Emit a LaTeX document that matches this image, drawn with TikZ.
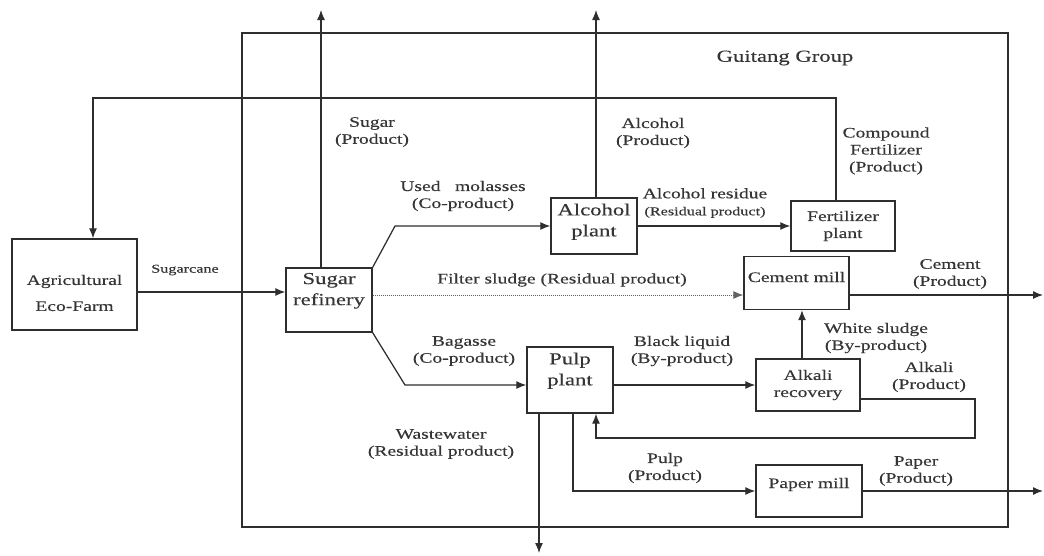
\documentclass[tikz,border=0pt]{standalone}
\usepackage{fontspec}
\setmainfont{Liberation Serif}[FakeStretch=1.35, FakeBold=0.35]
\usetikzlibrary{arrows.meta}

\definecolor{ink}{HTML}{2E2E2E}
\definecolor{inktext}{HTML}{353535}
\newcommand{\tagsize}{\fontsize{14.5}{17}\selectfont}
\newcommand{\smallsize}{\fontsize{12}{15}\selectfont}
\newcommand{\bigsize}{\fontsize{16.8}{21}\selectfont}

\begin{document}
\begin{tikzpicture}[x=1pt, y=-1pt, >={Latex[length=10pt,width=8pt]}]
        % --- Styles ---
        \tikzset{
            unit_box/.style={draw=ink, line width=1.4pt, inner sep=0pt, align=center, text=inktext, font=\tagsize},
            unit_big/.style={unit_box, font=\bigsize},
            flow_arrow/.style={->, draw=ink, line width=1.25pt},
            sludge_line/.style={->, draw=ink!75, line width=0.9pt, dash pattern=on 1pt off 1pt},
            flow_tag/.style={align=center, text=inktext, font=\tagsize},
            group_frame/.style={draw=ink, line width=1.25pt}
        }
        \useasboundingbox (0,0) rectangle (1044,555);

        % =====================================================================
        % CADRE DU GROUPE
        % =====================================================================
        \draw[group_frame] (242,33) rectangle (1008,527);
        \node[flow_tag, font=\bigsize] (groupname) at (785,58) {Guitang Group};

        % =====================================================================
        % UNITES
        % =====================================================================
        \node[unit_box, minimum width=125, minimum height=91] (farm) at (74.5,284.5)
            {\rule{0pt}{27pt}Agricultural\\[9pt]Eco-Farm};
        \node[unit_big, minimum width=86, minimum height=64] (refinery) at (329,300)
            {Sugar\\refinery\rule[-22pt]{0pt}{22pt}};
        \node[unit_big, minimum width=86, minimum height=56] (alcohol) at (594,226)
            {Alcohol\\plant\rule[-12pt]{0pt}{12pt}};
        \node[unit_box, minimum width=104, minimum height=50] (fertilizer) at (843,226)
            {Fertilizer\\plant};
        \node[unit_box, minimum width=105, text height=25.5pt, text depth=27.5pt] (cement) at (796.5,283)
            {Cement mill};
        \node[unit_big, minimum width=86, minimum height=66] (pulp) at (570,380)
            {Pulp\\plant\rule[-22pt]{0pt}{22pt}};
        \node[unit_box, minimum width=104, minimum height=52] (alkali) at (808,385)
            {Alkali\\recovery};
        \node[unit_box, minimum width=106, text height=23pt, text depth=29pt] (paper) at (809,491)
            {Paper mill};

        % points libres
        \coordinate (sugartop) at (321,10);
        \coordinate (ret) at (93,98);
        \coordinate (molbend) at (395,226);
        \coordinate (bagbend) at (405,385);
        \coordinate (alkcorner) at (975,438);
        \coordinate (cemout) at (1043,295);
        \coordinate (paperout) at (1043,491);
        \coordinate (wasteout) at (539,553);

        % =====================================================================
        % FLUX
        % =====================================================================
        \draw[flow_arrow] ([yshift=-7.5pt]farm.east) -- ([yshift=8pt]refinery.west);
        \draw[flow_arrow] ([xshift=-8pt]refinery.north) -- (sugartop);
        \draw[flow_arrow] ([xshift=2pt]alcohol.north) -- ([xshift=2pt]alcohol.north |- sugartop);
        \draw[flow_arrow] ([xshift=-7pt]fertilizer.north) |- (ret) -- ([xshift=18.5pt]farm.north);
        \draw[flow_arrow] (refinery.north east) -- (molbend) -- (alcohol.west);
        \draw[flow_arrow] (alcohol.east) -- (alcohol.east -| fertilizer.west);
        \draw[sludge_line] ([yshift=5pt]refinery.east) -- ([yshift=-12pt]cement.west);
        \draw[flow_arrow] ([yshift=-12pt]cement.east) -- (cemout);
        \draw[flow_arrow] (refinery.south east) -- (bagbend) -- (bagbend -| pulp.west);
        \draw[flow_arrow] (pulp.east |- alkali.west) -- (alkali.west);
        \draw[flow_arrow] ([xshift=-6pt]alkali.north) -- ([xshift=-6pt]alkali.north |- cement.south);
        \draw[flow_arrow] ([yshift=-14pt]alkali.east) -| (alkcorner) -| ([xshift=26pt]pulp.south);
        \draw[flow_arrow] ([xshift=-31pt]pulp.south) -- (wasteout);
        \draw[flow_arrow] ([xshift=3pt]pulp.south) |- (paper.west);
        \draw[flow_arrow] (paper.east) -- (paperout);

        % =====================================================================
        % ETIQUETTES
        % =====================================================================
        \node[flow_tag, font=\smallsize] (tcane) at (185,270) {Sugarcane};
        \node[flow_tag] (tsugar) at (372,132) {Sugar\\(Product)};
        \node[flow_tag] (tmol) at (463,196) {Used\quad molasses\\(Co-product)};
        \node[flow_tag] (talc) at (653,133) {Alcohol\\(Product)};
        \node[flow_tag] (tfert) at (886,151) {Compound\\Fertilizer\\(Product)};
        \node[flow_tag] (tres) at (705,203) {Alcohol residue\\{\smallsize (Residual product)}};
        \node[flow_tag] (tfilter) at (562,280) {Filter sludge (Residual product)};
        \node[flow_tag] (tcem) at (950,274) {Cement\\(Product)};
        \node[flow_tag] (twhite) at (876,338) {White sludge\\(By-product)};
        \node[flow_tag] (talk) at (929,377) {Alkali\\(Product)};
        \node[flow_tag] (tbag) at (464,351) {Bagasse\\(Co-product)};
        \node[flow_tag] (tblack) at (682,351) {Black liquid\\(By-product)};
        \node[flow_tag] (twaste) at (441,444) {Wastewater\\(Residual product)};
        \node[flow_tag] (tpulp) at (665,468) {Pulp\\(Product)};
        \node[flow_tag] (tpaper) at (916,471) {Paper\\(Product)};

    \end{tikzpicture}
\end{document}
